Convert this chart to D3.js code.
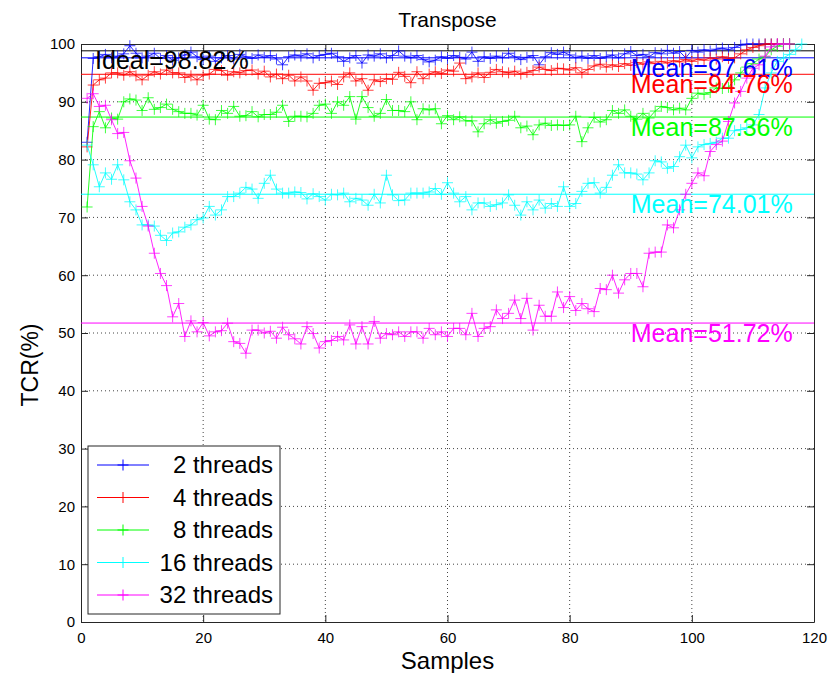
<!DOCTYPE html>
<html>
<head>
<meta charset="utf-8">
<script src="https://cdn.jsdelivr.net/npm/d3@7"></script>
<style>
  body { margin: 0; background: #fff; }
  text { font-family: "Liberation Sans", Arial, Helvetica, sans-serif; }
</style>
</head>
<body>
<svg id="chart" width="829" height="673"></svg>
<script>
// TCR samples, sample index starts at 1
const threads2 = [83.0, 97.5, 97.8, 98.2, 97.6, 97.9, 98.3, 99.7, 98.4, 97.6,
  97.9, 98.4, 97.5, 98.0, 97.2, 97.6, 98.1, 98.6, 97.8, 97.3,
  97.9, 97.0, 97.6, 98.0, 97.4, 98.2, 97.8, 97.5, 98.1, 97.7,
  98.0, 97.4, 96.4, 97.8, 98.1, 97.9, 98.3, 97.6, 98.0, 98.2,
  98.4, 97.8, 97.0, 97.6, 98.0, 96.7, 98.1, 97.9, 98.3, 97.6,
  98.0, 98.8, 97.9, 97.6, 98.0, 97.3, 96.9, 97.2, 97.8, 97.5,
  98.0, 97.7, 97.4, 98.6, 97.0, 97.8, 97.5, 97.9, 97.6, 98.4,
  97.8, 97.3, 97.7, 98.0, 96.4, 97.8, 98.5, 98.2, 98.6, 98.1,
  97.6, 97.9, 97.5, 98.0, 97.5, 97.8, 98.1, 97.6, 98.3, 98.7,
  98.0, 98.2, 97.8, 98.5, 98.3, 98.9, 98.4, 98.7, 97.6, 98.9,
  98.6, 99.0, 98.8, 99.1, 99.3, 99.0, 99.4, 99.8, 100, 100,
  100, 100, 100, 100, 100, 100];

const threads4 = [82.2, 92.9, 93.8, 94.1, 95.0, 95.0, 94.6, 95.2, 94.5, 93.8,
  94.6, 95.2, 94.8, 95.5, 95.0, 95.0, 94.2, 94.5, 93.8, 94.6,
  94.8, 95.6, 95.4, 94.6, 95.2, 95.0, 95.4, 95.5, 94.8, 95.3,
  94.3, 94.8, 94.0, 94.6, 93.6, 94.3, 93.6, 92.0, 93.2, 93.3,
  93.6, 93.0, 94.3, 95.0, 93.6, 94.0, 92.0, 93.8, 93.5, 94.0,
  93.9, 95.1, 94.4, 93.3, 95.2, 94.0, 94.8, 95.2, 94.9, 95.5,
  95.3, 96.7, 94.0, 94.3, 95.0, 94.2, 95.1, 95.6, 95.2, 95.0,
  95.3, 94.8, 95.1, 95.4, 96.0, 95.6, 95.4, 95.8, 95.7, 95.5,
  95.9, 95.0, 95.6, 96.2, 96.5, 96.0, 96.4, 96.1, 96.6, 96.3,
  96.8, 96.5, 96.9, 96.6, 97.0, 96.7, 97.1, 96.9, 97.3, 97.0,
  97.4, 97.2, 97.6, 97.4, 97.8, 97.5, 97.6, 98.3, 99.0, 99.4,
  99.7, 100, 100, 100, 100, 100];

const threads8 = [71.8, 85.7, 88.3, 85.5, 87.2, 87.0, 90.0, 90.5, 90.3, 88.5,
  90.7, 88.7, 89.0, 89.6, 88.7, 88.3, 88.0, 88.0, 87.7, 89.4,
  87.0, 86.9, 88.5, 88.0, 89.2, 87.5, 87.6, 88.3, 87.4, 87.8,
  87.8, 88.2, 89.4, 86.6, 87.5, 87.5, 87.4, 88.0, 89.4, 89.6,
  88.0, 90.0, 89.4, 90.9, 87.0, 90.9, 89.0, 87.5, 88.0, 90.4,
  88.5, 88.5, 88.3, 90.0, 86.9, 88.8, 88.6, 88.8, 86.2, 87.6,
  86.9, 87.4, 86.7, 86.7, 84.8, 86.2, 86.9, 86.3, 86.6, 86.8,
  87.5, 85.5, 85.8, 84.3, 86.0, 86.3, 85.9, 86.0, 85.9, 86.0,
  87.5, 83.1, 85.5, 87.3, 86.5, 86.9, 88.5, 88.0, 88.6, 87.5,
  87.0, 88.0, 87.2, 88.4, 89.2, 89.0, 88.6, 88.9, 88.6, 90.6,
  91.5, 91.3, 91.6, 92.4, 92.3, 92.5, 93.8, 95.0, 96.0, 96.6,
  97.4, 97.8, 99.0, 99.6, 100, 100];

const threads16 = [82.5, 79.1, 75.3, 77.7, 76.6, 79.1, 76.5, 72.7, 71.3, 68.7,
  68.7, 68.5, 66.9, 66.0, 67.3, 67.5, 68.3, 68.7, 69.6, 69.9,
  71.9, 70.4, 71.3, 73.6, 73.6, 74.2, 75.2, 74.9, 73.3, 75.9,
  77.3, 74.9, 74.2, 74.2, 74.4, 74.3, 73.2, 74.1, 73.6, 73.0,
  74.0, 73.9, 74.2, 72.7, 73.3, 73.0, 72.1, 74.0, 72.5, 77.3,
  73.9, 72.9, 73.0, 74.2, 74.2, 74.2, 74.4, 75.0, 74.0, 76.0,
  74.2, 72.7, 73.6, 71.3, 72.5, 72.5, 71.9, 72.2, 72.5, 73.9,
  72.1, 70.4, 72.7, 71.3, 73.0, 71.6, 72.4, 71.9, 75.3, 71.9,
  72.4, 74.5, 75.9, 76.0, 74.2, 75.2, 77.3, 79.1, 77.7, 77.7,
  77.5, 76.5, 77.7, 79.8, 79.6, 78.5, 78.8, 80.5, 82.5, 80.3,
  82.2, 82.6, 82.8, 83.0, 83.7, 83.7, 85.0, 85.2, 85.5, 86.0,
  87.8, 92.4, 95.0, 97.0, 97.6, 98.2, 99.0, 100];

const threads32 = [90.6, 91.4, 89.2, 89.4, 86.9, 84.5, 84.7, 79.8, 76.8, 71.9,
  68.5, 63.8, 60.3, 58.2, 52.8, 55.1, 49.4, 52.1, 50.2, 51.8,
  49.5, 50.2, 50.4, 51.7, 48.5, 48.2, 46.5, 50.5, 50.5, 50.0,
  50.3, 49.1, 51.0, 49.7, 49.0, 48.1, 51.1, 49.9, 47.4, 48.5,
  48.7, 49.4, 48.8, 51.4, 48.1, 51.1, 48.1, 52.0, 49.1, 49.9,
  49.7, 50.2, 49.4, 50.2, 50.2, 49.1, 50.8, 49.7, 50.2, 49.4,
  50.8, 50.8, 49.7, 53.4, 49.4, 50.8, 51.1, 54.0, 52.5, 53.4,
  55.7, 52.5, 56.0, 50.5, 54.8, 52.9, 52.9, 57.1, 54.4, 56.3,
  53.9, 55.1, 54.2, 53.7, 57.7, 57.5, 60.0, 56.9, 59.2, 60.3,
  60.3, 58.0, 63.8, 64.0, 64.0, 68.7, 68.2, 71.3, 74.0, 75.9,
  77.7, 77.2, 81.4, 82.6, 83.2, 86.6, 89.8, 91.8, 94.1, 95.8,
  96.4, 97.9, 99.5, 100, 100, 100];

const seriesNames = ['2 threads', '4 threads', '8 threads', '16 threads', '32 threads'];
const seriesColors = ['#0000ff', '#ff0000', '#00ff00', '#00ffff', '#ff00ff'];
const meanValues = [97.61, 94.76, 87.36, 74.01, 51.72];
const idealValue = 98.82;
const xTicks = [0, 20, 40, 60, 80, 100, 120];
const yTicks = [0, 10, 20, 30, 40, 50, 60, 70, 80, 90, 100];

const allSeries = [threads2, threads4, threads8, threads16, threads32];

const svg = d3.select('#chart');
const plotLeft = 81, plotRight = 814, plotTop = 44, plotBottom = 622;

const x = d3.scaleLinear().domain([0, 120]).range([plotLeft, plotRight]);
const y = d3.scaleLinear().domain([0, 100]).range([plotBottom, plotTop]);

// dotted grid
svg.append('g').selectAll('line').data(xTicks.slice(1, -1)).join('line')
  .attr('x1', d => x(d)).attr('x2', d => x(d))
  .attr('y1', plotTop).attr('y2', plotBottom)
  .attr('stroke', '#444').attr('stroke-width', 1)
  .attr('stroke-dasharray', '1,3');
svg.append('g').selectAll('line').data(yTicks.slice(1, -1)).join('line')
  .attr('x1', plotLeft).attr('x2', plotRight)
  .attr('y1', d => y(d)).attr('y2', d => y(d))
  .attr('stroke', '#444').attr('stroke-width', 1)
  .attr('stroke-dasharray', '1,3');

// axes, ticks pointing inward like matlab
const styleAxis = g => {
  g.selectAll('.domain').attr('stroke', '#262626');
  g.selectAll('.tick line').attr('stroke', '#262626');
  g.selectAll('.tick text').attr('fill', '#000')
    .style('font-size', '15px')
    .style('font-family', '"Liberation Sans", Arial, sans-serif');
};

svg.append('g').attr('transform', `translate(0,${plotBottom})`)
  .call(d3.axisBottom(x).tickValues(xTicks).tickSizeInner(-7).tickSizeOuter(0).tickPadding(10))
  .call(styleAxis);
svg.append('g').attr('transform', `translate(${plotLeft},0)`)
  .call(d3.axisLeft(y).tickValues(yTicks).tickSizeInner(-7).tickSizeOuter(0).tickPadding(6))
  .call(styleAxis);
svg.append('g').attr('transform', `translate(0,${plotTop})`)
  .call(d3.axisTop(x).tickValues(xTicks).tickSizeInner(-7).tickSizeOuter(0).tickFormat(''))
  .call(styleAxis);
svg.append('g').attr('transform', `translate(${plotRight},0)`)
  .call(d3.axisRight(y).tickValues(yTicks).tickSizeInner(-7).tickSizeOuter(0).tickFormat(''))
  .call(styleAxis);

// ideal + mean reference lines
svg.append('line')
  .attr('x1', plotLeft).attr('x2', plotRight)
  .attr('y1', y(idealValue)).attr('y2', y(idealValue))
  .attr('stroke', '#000').attr('stroke-width', 1);

svg.append('g').selectAll('line').data(meanValues).join('line')
  .attr('x1', plotLeft).attr('x2', plotRight)
  .attr('y1', d => y(d)).attr('y2', d => y(d))
  .attr('stroke', (d, i) => seriesColors[i]).attr('stroke-width', 1);

// series lines with + markers
const line = d3.line().x((d, i) => x(i + 1)).y(d => y(d));
const plusPath = 'M-5.5,0H5.5M0,-5.5V5.5';

allSeries.forEach((values, k) => {
  const g = svg.append('g');
  g.append('path')
    .attr('d', line(values))
    .attr('fill', 'none')
    .attr('stroke', seriesColors[k])
    .attr('stroke-width', 1)
    .attr('stroke-opacity', 0.85);
  g.selectAll('path.mark').data(values).join('path')
    .attr('class', 'mark')
    .attr('d', plusPath)
    .attr('transform', (d, i) => `translate(${x(i + 1)},${y(d)})`)
    .attr('stroke', seriesColors[k])
    .attr('stroke-width', 1)
    .attr('stroke-opacity', 0.75);
});

// annotations
svg.append('text')
  .attr('x', x(2.3)).attr('y', y(idealValue) + 18)
  .attr('fill', '#000').style('font-size', '25px')
  .text('Ideal=' + idealValue.toFixed(2) + '%');

svg.append('g').selectAll('text').data(meanValues).join('text')
  .attr('x', x(90)).attr('y', d => y(d) + 19)
  .attr('fill', (d, i) => seriesColors[i])
  .style('font-size', '25px')
  .text(d => 'Mean=' + d.toFixed(2) + '%');

// titles
svg.append('text')
  .attr('x', (plotLeft + plotRight) / 2).attr('y', 27)
  .attr('text-anchor', 'middle').style('font-size', '21px')
  .text('Transpose');
svg.append('text')
  .attr('x', (plotLeft + plotRight) / 2).attr('y', 669)
  .attr('text-anchor', 'middle').style('font-size', '24px')
  .text('Samples');
svg.append('text')
  .attr('transform', 'translate(38,365) rotate(-90)')
  .attr('text-anchor', 'middle').style('font-size', '23px')
  .text('TCR(%)');

// legend
const legend = svg.append('g');
legend.append('rect')
  .attr('x', 88).attr('y', 446).attr('width', 192).attr('height', 168)
  .attr('fill', '#fff').attr('stroke', '#262626').attr('stroke-width', 1);

const rowY = i => 465 + i * 32.5;
seriesNames.forEach((name, i) => {
  legend.append('line')
    .attr('x1', 97).attr('x2', 149)
    .attr('y1', rowY(i)).attr('y2', rowY(i))
    .attr('stroke', seriesColors[i]).attr('stroke-width', 1);
  legend.append('path')
    .attr('d', plusPath)
    .attr('transform', `translate(123,${rowY(i)})`)
    .attr('stroke', seriesColors[i]).attr('stroke-width', 1);
  legend.append('text')
    .attr('x', 273).attr('y', rowY(i))
    .attr('dy', '0.35em')
    .attr('text-anchor', 'end')
    .style('font-size', '24px')
    .text(name);
});
</script>
</body>
</html>
